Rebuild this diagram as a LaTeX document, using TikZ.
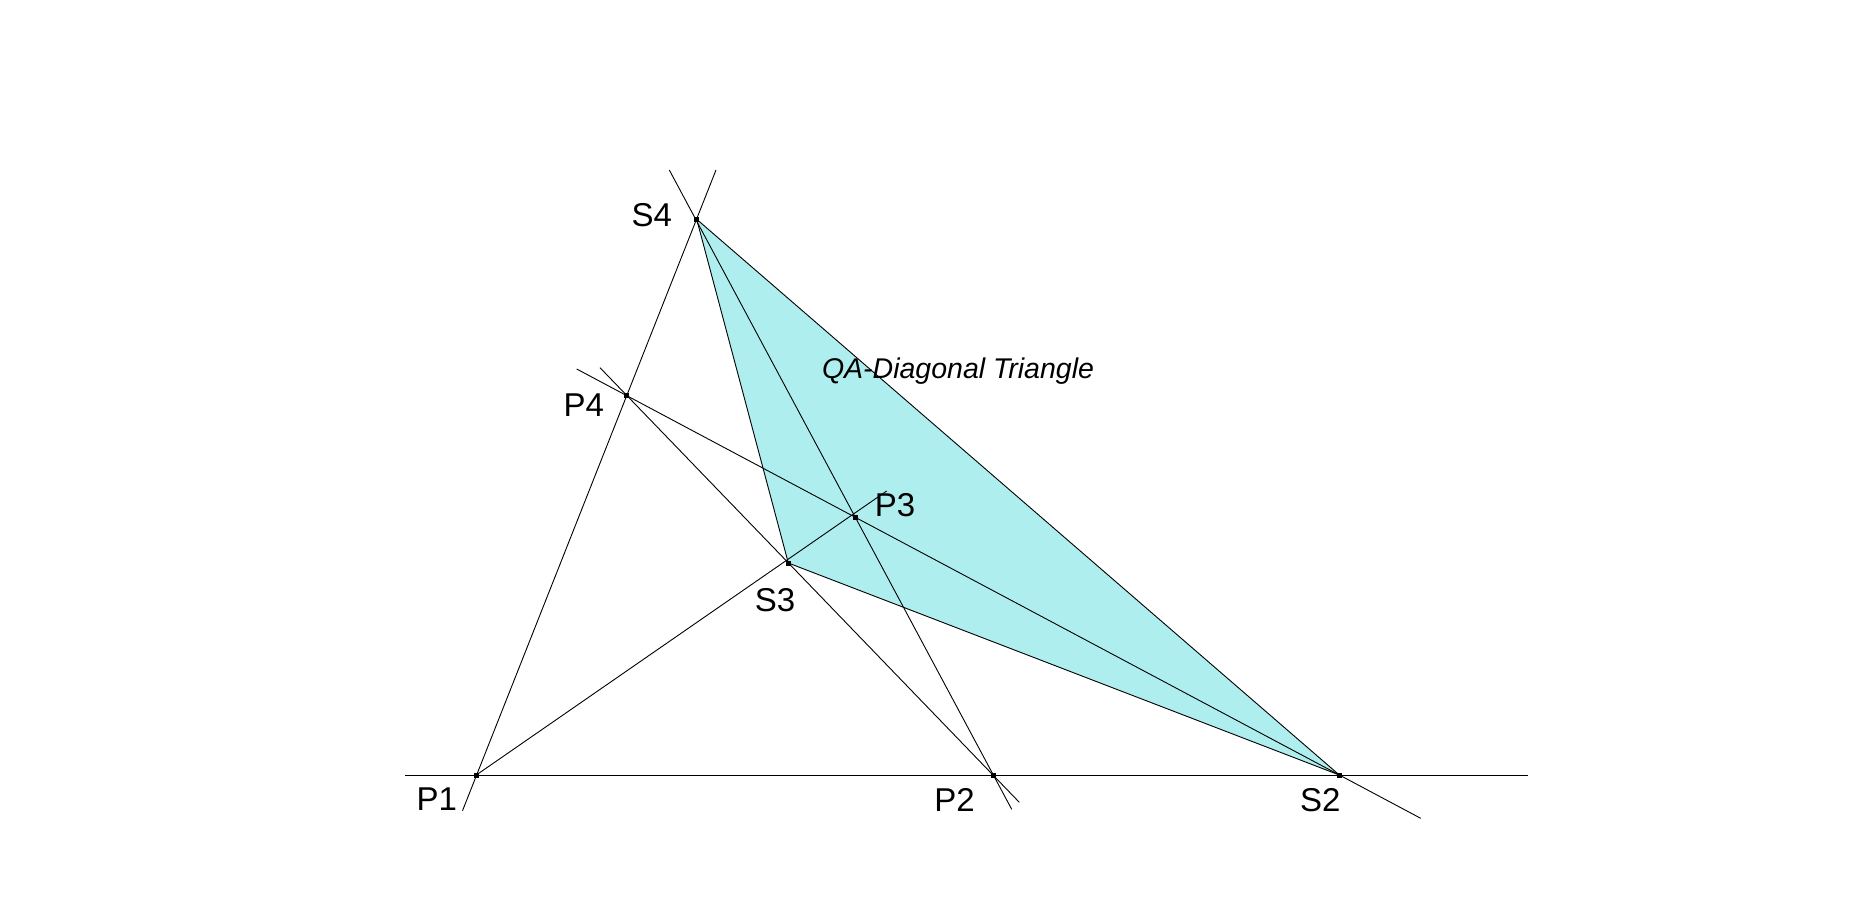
\documentclass[tikz,border=0pt]{standalone}
\usepackage{fontspec}
\setmainfont{Liberation Sans}
\begin{document}
\begin{tikzpicture}[x=1pt,y=-1pt,
  ln/.style={line width=0.9pt,black},
  pt/.style={fill=black},
  lab/.style={inner sep=0pt,anchor=base,font=\fontsize{33}{33}\selectfont},
  title/.style={inner sep=0pt,anchor=base,font=\fontsize{28.5}{28.5}\selectfont\itshape}]
\useasboundingbox (0,0) rectangle (1857,915);
% points
\coordinate (P1) at (476.3,775);
\coordinate (P2) at (993.3,775);
\coordinate (P3) at (855.3,517);
\coordinate (P4) at (626.3,395);
\coordinate (S2) at (1339.3,775);
\coordinate (S3) at (788.3,563);
\coordinate (S4) at (696.7,219.3);
% line ends
\coordinate (hA) at (405,775);
\coordinate (hB) at (1527.7,775);
\coordinate (aA) at (462.5,810.7);
\coordinate (aB) at (716,170);
\coordinate (bA) at (669.3,170);
\coordinate (bB) at (1011.7,809.3);
\coordinate (cA) at (600,367.7);
\coordinate (cB) at (1019.3,802.3);
\coordinate (dA) at (576.7,369);
\coordinate (dB) at (1420.7,818.3);
\coordinate (eB) at (886.7,491);
% diagonal triangle
\fill[fill={rgb,255:red,175;green,238;blue,238}] (S4) -- (S3) -- (S2) -- cycle;
\draw[ln] (S4) -- (S3) -- (S2) -- cycle;
% lines
\draw[ln] (hA) -- (hB);
\draw[ln] (aA) -- (aB);
\draw[ln] (bA) -- (bB);
\draw[ln] (cA) -- (cB);
\draw[ln] (dA) -- (dB);
\draw[ln] (P1) -- (eB);
% point markers
\foreach \p in {P1,P2,P3,P4,S2,S3,S4}
  \fill[pt] ([shift={(-2.5,-2.5)}]\p) rectangle ([shift={(2.5,2.5)}]\p);
% labels
\node[lab] (lS4) at (651.7,226.7) {S4};
\node[lab] (lP4) at (583.7,416.7) {P4};
\node[lab] (lP3) at (895,516) {P3};
\node[lab] (lS3) at (775,611.7) {S3};
\node[lab] (lP1) at (436.7,810.7) {P1};
\node[lab] (lP2) at (954.5,811) {P2};
\node[lab] (lS2) at (1320.3,811) {S2};
\node[title] (tt) at (958,378.3) {QA-Diagonal Triangle};
\end{tikzpicture}
\end{document}
